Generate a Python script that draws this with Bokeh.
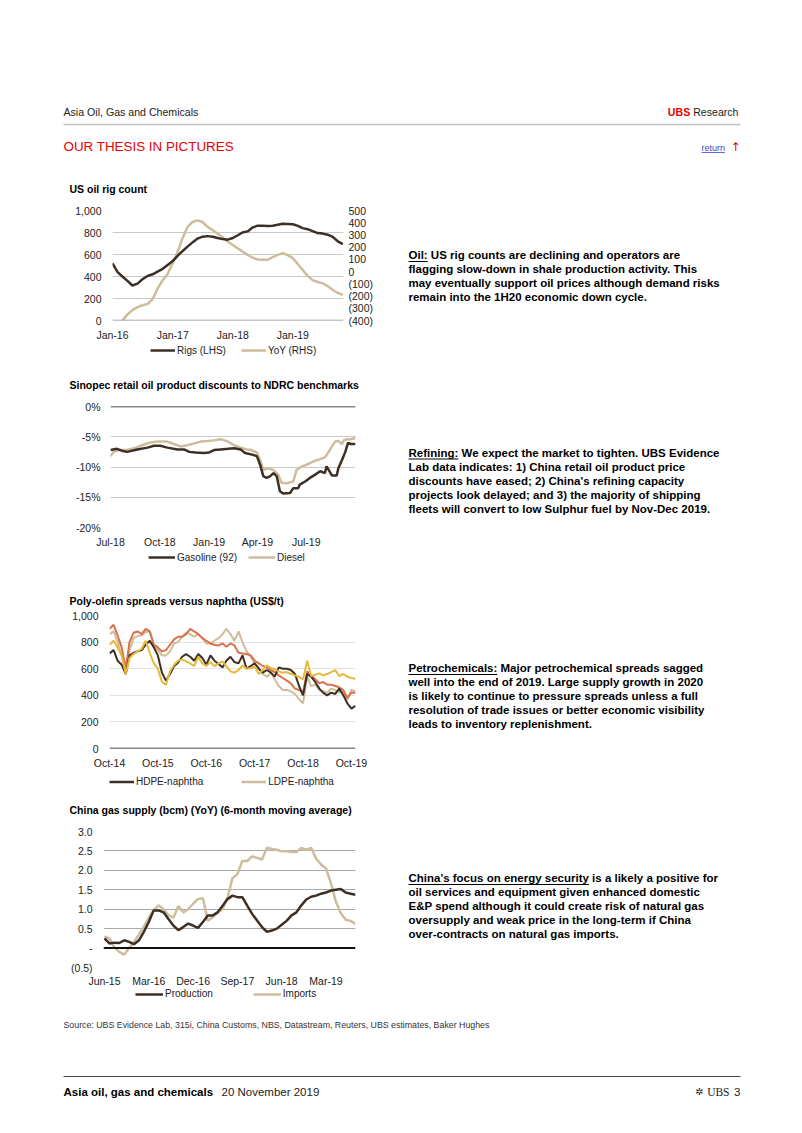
import pandas as pd
from bokeh.plotting import figure
from bokeh.models import (Range1d, LinearAxis, FixedTicker, DatetimeTickFormatter,
                          Legend, LegendItem, Span, NumeralTickFormatter, Title)
from bokeh.layouts import column, row
from bokeh.embed import file_html
from bokeh.resources import INLINE
from bokeh.core.properties import value

# ---------------- DATA ----------------
# Chart 1: US oil rig count (monthly)
rigs_start = "2016-01-01"
rigs = [520, 440, 400, 360, 318, 335, 375, 405, 420, 445, 470, 505,
        540, 590, 630, 672, 710, 745, 762, 767, 762, 750, 740, 735,
        750, 775, 800, 810, 845, 862, 862, 860, 862, 870, 880, 878,
        875, 860, 840, 830, 812, 795, 790, 780, 760, 720, 695]
yoy_start = "2016-03-01"
yoy = [-400, -350, -315, -290, -275, -265, -225, -140, -70, -20,
       70, 165, 270, 366, 406, 419, 406, 366, 340, 310, 280, 245,
       218, 190, 165, 137, 115, 100, 97, 97, 118, 137, 150, 135,
       110, 60, 15, -35, -70, -85, -95, -118, -150, -175, -190]
c1_xticks = ["2016-01-01", "2017-01-01", "2018-01-01", "2019-01-01"]
c1_lticks = [0, 200, 400, 600, 800, 1000]
c1_rticks = [-400, -300, -200, -100, 0, 100, 200, 300, 400, 500]
c1_rlabels = ["(400)", "(300)", "(200)", "(100)", "0", "100", "200", "300", "400", "500"]

# Chart 2: Sinopec retail discounts (%)
gas_dates = ["2018-07-01", "2018-07-13", "2018-07-22", "2018-08-01", "2018-08-20", "2018-09-08",
             "2018-09-20", "2018-10-02", "2018-10-15", "2018-11-03", "2018-11-15", "2018-11-25",
             "2018-12-07", "2018-12-22", "2019-01-01", "2019-01-10", "2019-01-23", "2019-02-05",
             "2019-02-17", "2019-03-01", "2019-03-09", "2019-03-24", "2019-03-31", "2019-04-06",
             "2019-04-12", "2019-04-18", "2019-04-25", "2019-05-01", "2019-05-07", "2019-05-13",
             "2019-05-19", "2019-06-01", "2019-06-07", "2019-06-16", "2019-06-19", "2019-06-29",
             "2019-07-08", "2019-07-17", "2019-07-27", "2019-08-05", "2019-08-08", "2019-08-18",
             "2019-08-27", "2019-08-30", "2019-09-06", "2019-09-12", "2019-09-17", "2019-09-22",
             "2019-10-01"]
gasoline = [-7.2, -7.0, -7.3, -7.5, -7.1, -6.8, -6.5, -6.5, -6.8, -7.1, -7.1, -7.5, -7.6, -7.7,
            -7.6, -7.2, -7.1, -7.0, -6.9, -7.1, -7.7, -8.0, -8.2, -9.6, -11.5, -11.8, -11.5, -11.0,
            -11.5, -14.0, -14.4, -14.3, -13.5, -13.5, -12.9, -12.4, -11.8, -11.3, -10.7, -11.0,
            -9.9, -11.4, -11.4, -10.2, -8.8, -7.5, -6.0, -6.2, -6.2]
dsl_dates = ["2018-07-01", "2018-07-07", "2018-07-16", "2018-08-01", "2018-08-17", "2018-08-29",
             "2018-09-11", "2018-09-27", "2018-10-15", "2018-10-27", "2018-11-09", "2018-11-21",
             "2018-12-04", "2018-12-16", "2018-12-29", "2019-01-10", "2019-01-23", "2019-02-05",
             "2019-02-17", "2019-03-01", "2019-03-12", "2019-03-21", "2019-03-31", "2019-04-06",
             "2019-04-12", "2019-04-21", "2019-05-01", "2019-05-10", "2019-05-16", "2019-05-26",
             "2019-06-07", "2019-06-13", "2019-06-23", "2019-07-05", "2019-07-14", "2019-07-27",
             "2019-08-05", "2019-08-12", "2019-08-18", "2019-08-24", "2019-08-30", "2019-09-06",
             "2019-09-09", "2019-09-15", "2019-09-22", "2019-09-28", "2019-10-01"]
diesel = [-8.2, -7.5, -7.2, -7.2, -6.8, -6.4, -6.0, -5.8, -5.8, -6.2, -6.6, -6.4, -6.1, -5.8,
          -5.7, -5.6, -5.4, -5.8, -6.4, -6.8, -7.1, -7.2, -7.6, -8.8, -10.5, -10.2, -10.5, -11.3,
          -12.6, -12.7, -12.4, -10.5, -9.9, -9.5, -9.1, -8.7, -8.4, -7.5, -6.6, -5.8, -5.7, -6.2,
          -5.6, -5.4, -5.4, -5.3, -5.0]
c2_xticks = ["2018-07-01", "2018-10-01", "2019-01-01", "2019-04-01", "2019-07-01"]
c2_yticks = [-20, -15, -10, -5, 0]
c2_ylabels = ["-20%", "-15%", "-10%", "-5%", "0%"]

# Chart 3: Poly-olefin spreads (US$/t), monthly from Oct-14
po_start = "2014-10-01"
hdpe = [715, 740, 660, 630, 560, 700, 720, 730, 740, 780, 810, 760, 700, 570, 510, 560,
        620, 645, 690, 710, 690, 660, 710, 680, 630, 700, 660, 635, 610, 660, 690, 650,
        640, 700, 600, 620, 640, 600, 570, 590, 570, 540, 610, 600, 600, 590, 560, 470,
        400, 560, 540, 500, 450, 420, 400, 420, 410, 450, 400, 340, 300, 320]
ldpe = [860, 880, 800, 700, 570, 740, 830, 845, 850, 875, 880, 770, 740, 700, 700, 730,
        790, 800, 840, 870, 860, 840, 860, 830, 790, 790, 810, 830, 860, 900, 860, 810,
        880, 800, 730, 690, 640, 600, 560, 540, 570, 520, 470, 440, 440, 430, 410, 370,
        340, 540, 470, 480, 440, 430, 420, 450, 440, 420, 430, 370, 440, 430]
lldpe = [900, 930, 850, 760, 600, 800, 870, 880, 860, 900, 880, 780, 760, 730, 740, 780,
         820, 840, 840, 860, 900, 880, 860, 830, 810, 790, 780, 775, 790, 765, 790, 775,
         720, 715, 710, 700, 660, 640, 620, 610, 590, 575, 550, 530, 510, 490, 450, 440,
         420, 580, 550, 520, 490, 500, 480, 480, 470, 460, 440, 380, 420, 420]
pp = [780, 810, 760, 700, 560, 680, 710, 730, 750, 810, 720, 640, 600, 500, 480, 580,
      630, 660, 670, 655, 640, 620, 690, 640, 620, 650, 620, 640, 655, 620, 580, 570,
      590, 625, 600, 605, 615, 560, 590, 625, 605, 595, 580, 570, 575, 560, 550, 540,
      520, 660, 545, 555, 565, 550, 560, 575, 590, 545, 560, 540, 530, 525]
c3_xticks = ["2014-10-01", "2015-10-01", "2016-10-01", "2017-10-01", "2018-10-01", "2019-10-01"]
c3_yticks = [0, 200, 400, 600, 800, 1000]

# Chart 4: China gas supply YoY (bcm), monthly Jun-15 .. Sep-19
production = [0.25, 0.12, 0.14, 0.13, 0.20, 0.16, 0.10, 0.20, 0.42, 0.67, 0.97, 0.97, 0.92,
              0.75, 0.58, 0.46, 0.54, 0.63, 0.58, 0.52, 0.67, 0.84, 0.84, 0.92, 1.09, 1.26,
              1.35, 1.31, 1.31, 1.09, 0.88, 0.71, 0.54, 0.42, 0.45, 0.50, 0.60, 0.70, 0.84,
              0.92, 1.10, 1.25, 1.32, 1.35, 1.40, 1.43, 1.48, 1.50, 1.52, 1.43, 1.40, 1.37]
imports = [0.30, 0.25, 0.02, -0.10, -0.17, 0.00, 0.16, 0.35, 0.55, 0.78, 0.98, 1.10, 1.00,
           0.85, 0.78, 1.08, 0.92, 1.00, 1.14, 1.26, 1.28, 0.70, 0.80, 0.92, 1.00, 1.30,
           1.80, 1.90, 2.24, 2.24, 2.36, 2.32, 2.28, 2.58, 2.55, 2.53, 2.49, 2.49, 2.47,
           2.47, 2.58, 2.53, 2.58, 2.30, 2.15, 2.05, 1.67, 1.20, 0.90, 0.73, 0.70, 0.62]
c4_xtick_idx = [0, 9, 18, 27, 36, 45]
c4_xlabels = ["Jun-15", "Mar-16", "Dec-16", "Sep-17", "Jun-18", "Mar-19"]
c4_yticks = [-0.5, 0, 0.5, 1.0, 1.5, 2.0, 2.5, 3.0]
c4_ylabels = ["(0.5)", "-", "0.5", "1.0", "1.5", "2.0", "2.5", "3.0"]

# ---------------- STYLE ----------------
FONT = "Liberation Sans"
DARK = "#3e2f25"
TAN = "#cdbd9c"
ORANGE = "#d8714c"
YELLOW = "#e7b93a"
RED = "#e60000"
GRID = "#c9c9c9"
W = 800
TITLE_H = 11.7  # text box height of a 10.5px title

AR = {' ': 278, ',': 278, '-': 333, '.': 278, ':': 278, "'": 191, 'A': 667, 'B': 667, 'C': 722,
      'R': 722, 'S': 667, 'U': 722, 'a': 556, 'b': 556, 'c': 500, 'd': 556, 'e': 556, 'f': 278,
      'g': 556, 'h': 556, 'i': 222, 'l': 222, 'm': 833, 'n': 556, 'o': 556, 'r': 333, 's': 500,
      't': 278, 'u': 556}
AB = {' ': 278, ',': 278, '-': 333, ':': 333, "'": 238, 'C': 722, 'O': 778, 'P': 667, 'R': 722,
      'a': 556, 'c': 556, 'e': 556, 'f': 333, 'g': 611, 'h': 611, 'i': 278, 'l': 278, 'm': 889,
      'n': 611, 'o': 611, 'r': 389, 's': 556, 't': 333, 'u': 611, 'y': 556}


def tw(s, size, bold=False):
    tab = AB if bold else AR
    return sum(tab.get(ch, 556) for ch in s) * size / 1000.0


def panel(x0, y0, x1, y1):
    # data coords == page pixels
    p = figure(width=x1 - x0, height=y1 - y0, x_range=Range1d(x0, x1), y_range=Range1d(y1, y0),
               x_axis_type=None, y_axis_type=None, output_backend="svg", toolbar_location=None,
               min_border=0)
    p.outline_line_color = None
    p.background_fill_color = "white"
    p.border_fill_color = "white"
    return p


def txt(p, x, y, s, size, bold=False, color="#000000", align="left", font=FONT):
    p.text(x=[x], y=[y], text=[s], text_font=value(font), text_font_size=f"{size}px",
           text_font_style="bold" if bold else "normal", text_color=color,
           text_align=align, text_baseline="middle")


def uline(p, x0, x1, y, color="#000000", w=1):
    p.segment(x0=[x0], y0=[y], x1=[x1], y1=[y], line_color=color, line_width=w)


def style_axis(ax, standoff):
    ax.axis_line_color = None
    ax.major_tick_line_color = None
    ax.minor_tick_line_color = None
    ax.major_tick_out = 0
    ax.major_tick_in = 0
    ax.minor_tick_out = 0
    ax.minor_tick_in = 0
    ax.major_label_text_font = FONT
    ax.major_label_text_font_size = "10.5px"
    ax.major_label_text_color = "#222222"
    ax.major_label_standoff = standoff


def chart(y0, y1, fl, ft, fr, fb, xr, yr, title, xtype="linear", xstand=8, ystand=10):
    top = ft - y0  # title centred in this band
    p = figure(width=400, height=y1 - y0, x_range=xr, y_range=yr, x_axis_type=xtype,
               output_backend="svg", toolbar_location=None,
               min_border_left=fl, min_border_right=400 - fr,
               min_border_top=top, min_border_bottom=y1 - fb)
    p.add_layout(Title(text=title, align="left", offset=69 - fl, vertical_align="middle",
                       standoff=max(0, top - 2 - TITLE_H),
                       text_font=FONT, text_font_size="10.5px", text_font_style="bold",
                       text_color="#000000"), "above")
    p.outline_line_color = None
    p.background_fill_color = "white"
    p.border_fill_color = "white"
    p.xgrid.visible = False
    p.ygrid.grid_line_color = GRID
    p.ygrid.grid_line_width = 1
    for ax in p.xaxis:
        style_axis(ax, xstand)
    for ax in p.yaxis:
        style_axis(ax, ystand)
    return p


def legend_panel(y0, y1, fl, fr, entries, spacing, loc, glyph_w=25, lh=12):
    lp = figure(width=400, height=y1 - y0, x_range=Range1d(0, 1), y_range=Range1d(0, 1),
                x_axis_type=None, y_axis_type=None, output_backend="svg", toolbar_location=None,
                min_border_left=fl, min_border_right=400 - fr, min_border_top=0,
                min_border_bottom=0)
    lp.outline_line_color = None
    lp.background_fill_color = "white"
    lp.border_fill_color = "white"
    items = []
    for label, color, width in entries:
        # legend-only renderer (its points sit outside the visible range)
        r = lp.line(x=[-3, -2], y=[-3, -2], line_color=color, line_width=width)
        items.append(LegendItem(label=label, renderers=[r]))
    lg = Legend(items=items, orientation="horizontal", location=loc, border_line_color=None,
                background_fill_alpha=0, label_text_font=FONT, label_text_font_size="10px",
                label_text_color="#222222", glyph_width=glyph_w, glyph_height=lh,
                label_height=lh, label_standoff=2, spacing=spacing, padding=0, margin=0)
    lp.add_layout(lg)
    return lp


def ms(d):
    return pd.Timestamp(d).value // 10**6


dtf = DatetimeTickFormatter(days="%b-%y", months="%b-%y", years="%b-%y")

# ---------------- HEADER ----------------
hdr = panel(0, 0, W, 166)
txt(hdr, 63, 111, "Asia Oil, Gas and Chemicals", 10.6, color="#222222")
txt(hdr, 738, 111, "Research", 10.6, color="#222222", align="right")
txt(hdr, 738 - tw("Research", 10.6) - tw(" ", 10.6), 111, "UBS", 10.6, bold=True, color=RED,
    align="right")
uline(hdr, 63, 740, 124, color="#c4c4c4", w=1.5)
txt(hdr, 63, 146, "OUR THESIS IN PICTURES", 13.4, color=RED)
txt(hdr, 701, 147, "return", 9, color="#3a46c6")
uline(hdr, 701, 701 + tw("return", 9), 152, color="#3a46c6", w=0.8)
txt(hdr, 730, 146, "\u2191", 12, color=RED, font="DejaVu Sans")

# ---------------- CHART 1 ----------------
c1 = chart(166, 343, 112, 210, 343, 321,
           Range1d(pd.Timestamp("2016-01-01"), pd.Timestamp("2019-11-05")), Range1d(0, 1000),
           "US oil rig count", xtype="datetime", ystand=11)
c1.xaxis.ticker = FixedTicker(ticks=[ms(d) for d in c1_xticks])
c1.xaxis.formatter = dtf
c1.yaxis.ticker = FixedTicker(ticks=c1_lticks)
c1.yaxis.formatter = NumeralTickFormatter(format="0,0")
c1.extra_y_ranges = {"yoy": Range1d(-400, 500)}
rax = LinearAxis(y_range_name="yoy", ticker=FixedTicker(ticks=c1_rticks),
                 major_label_overrides=dict(zip(c1_rticks, c1_rlabels)))
style_axis(rax, 5)
c1.add_layout(rax, "right")
c1.add_layout(Span(location=0, dimension="width", line_color="#8c8c8c", line_width=1.5))
rig_dates = pd.date_range(rigs_start, periods=len(rigs), freq="MS")
yoy_dates = pd.date_range(yoy_start, periods=len(yoy), freq="MS")
c1.line(yoy_dates, yoy, line_color=TAN, line_width=2.5, y_range_name="yoy")
c1.line(rig_dates, rigs, line_color=DARK, line_width=2.5)
l1 = legend_panel(343, 362, 112, 343, [("Rigs (LHS)", DARK, 2.5), ("YoY (RHS)", TAN, 2.5)],
                  15, (38, 6))

txt1 = panel(400, 166, W, 362)
lines1 = ["Oil: US rig counts are declining and operators are",
          "flagging slow-down in shale production activity. This",
          "may eventually support oil prices although demand risks",
          "remain into the 1H20 economic down cycle."]
for i, s in enumerate(lines1):
    txt(txt1, 408, 254.5 + 14 * i, s, 11.5, bold=True)
uline(txt1, 408, 408 + tw("Oil:", 11.5, True), 261)

# ---------------- CHART 2 ----------------
c2 = chart(362, 550, 110, 406, 355, 528,
           Range1d(pd.Timestamp("2018-07-01"), pd.Timestamp("2019-10-01")), Range1d(-20, 0),
           "Sinopec retail oil product discounts to NDRC benchmarks", xtype="datetime")
c2.xaxis.ticker = FixedTicker(ticks=[ms(d) for d in c2_xticks])
c2.xaxis.formatter = dtf
c2.yaxis.ticker = FixedTicker(ticks=c2_yticks)
c2.yaxis.major_label_overrides = dict(zip(c2_yticks, c2_ylabels))
c2.add_layout(Span(location=0, dimension="width", line_color="#111111", line_width=1.5))
c2.line(pd.to_datetime(dsl_dates), diesel, line_color=TAN, line_width=2.5)
c2.line(pd.to_datetime(gas_dates), gasoline, line_color=DARK, line_width=2.5)
l2 = legend_panel(550, 585, 110, 355, [("Gasoline (92)", DARK, 2.5), ("Diesel", TAN, 2.5)],
                  11, (38, 22), glyph_w=27)

txt2 = panel(400, 362, W, 585)
lines2 = ["Refining: We expect the market to tighten. UBS Evidence",
          "Lab data indicates: 1) China retail oil product price",
          "discounts have eased; 2) China's refining capacity",
          "projects look delayed; and 3) the majority of shipping",
          "fleets will convert to low Sulphur fuel by Nov-Dec 2019."]
for i, s in enumerate(lines2):
    txt(txt2, 408, 452 + 14 * i, s, 11.5, bold=True)
uline(txt2, 408, 408 + tw("Refining:", 11.5, True), 458.5)

# ---------------- CHART 3 ----------------
c3 = chart(585, 771, 109, 615, 355, 749,
           Range1d(pd.Timestamp("2014-10-01"), pd.Timestamp("2019-11-01")), Range1d(0, 1000),
           "Poly-olefin spreads versus naphtha (US$/t)", xtype="datetime", ystand=11)
c3.xaxis.ticker = FixedTicker(ticks=[ms(d) for d in c3_xticks])
c3.xaxis.formatter = dtf
c3.yaxis.ticker = FixedTicker(ticks=c3_yticks)
c3.yaxis.formatter = NumeralTickFormatter(format="0,0")
c3.ygrid.grid_line_color = "#e2e2e2"
c3.add_layout(Span(location=0, dimension="width", line_color="#111111", line_width=1.5))
po_dates = pd.date_range(po_start, periods=len(hdpe), freq="MS")
c3.line(po_dates, ldpe, line_color=TAN, line_width=2)
c3.line(po_dates, lldpe, line_color=ORANGE, line_width=2)
c3.line(po_dates, hdpe, line_color=DARK, line_width=2)
c3.line(po_dates, pp, line_color=YELLOW, line_width=2)
l3 = legend_panel(771, 787, 109, 355, [("HDPE-naphtha", DARK, 2.5), ("LDPE-naphtha", TAN, 2.5)],
                  38, (0, 0), lh=11)

txt3 = panel(400, 585, W, 787)
lines3 = ["Petrochemicals: Major petrochemical spreads sagged",
          "well into the end of 2019. Large supply growth in 2020",
          "is likely to continue to pressure spreads unless a full",
          "resolution of trade issues or better economic visibility",
          "leads to inventory replenishment."]
for i, s in enumerate(lines3):
    txt(txt3, 408, 667.5 + 14 * i, s, 11.5, bold=True)
uline(txt3, 408, 408 + tw("Petrochemicals:", 11.5, True), 674)

# ---------------- CHART 4 ----------------
c4 = chart(787, 989, 103, 831, 355, 969, Range1d(-0.2, 51), Range1d(-0.5, 3.0),
           "China gas supply (bcm) (YoY) (6-month moving average)", xstand=7, ystand=11)
c4.xaxis.ticker = FixedTicker(ticks=c4_xtick_idx)
c4.xaxis.major_label_overrides = dict(zip(c4_xtick_idx, c4_xlabels))
c4.yaxis.ticker = FixedTicker(ticks=c4_yticks)
c4.yaxis.major_label_overrides = dict(zip(c4_yticks, c4_ylabels))
c4.ygrid.ticker = FixedTicker(ticks=[t for t in c4_yticks if t > 0])
c4.ygrid.grid_line_color = "#a9a9a9"
c4.add_layout(Span(location=0, dimension="width", line_color="#111111", line_width=2))
m_idx = list(range(len(production)))
c4.line(m_idx, imports, line_color=TAN, line_width=2.5)
c4.line(m_idx, production, line_color=DARK, line_width=2.5)
l4 = legend_panel(989, 1005, 103, 355, [("Production", DARK, 2.5), ("Imports", TAN, 2.5)],
                  40, (32, 6), glyph_w=28, lh=10)

txt4 = panel(400, 787, W, 1005)
lines4 = ["China's focus on energy security is a likely a positive for",
          "oil services and equipment given enhanced domestic",
          "E&P spend although it could create risk of natural gas",
          "oversupply and weak price in the long-term if China",
          "over-contracts on natural gas imports."]
for i, s in enumerate(lines4):
    txt(txt4, 408, 877.5 + 14 * i, s, 11.5, bold=True)
uline(txt4, 408, 408 + tw("China's focus on energy security", 11.5, True), 884)

# ---------------- FOOTER ----------------
ftr = panel(0, 1005, W, 1130)
txt(ftr, 63, 1024, "Source:  UBS Evidence Lab, 315i, China Customs, NBS, Datastream, Reuters, "
                   "UBS estimates, Baker Hughes", 8.8, color="#333333")
uline(ftr, 63, 740, 1076, color="#444444", w=1)
txt(ftr, 63, 1091, "Asia oil, gas and chemicals", 11.5, bold=True)
txt(ftr, 221, 1091, "20 November 2019", 11.5, color="#222222")
txt(ftr, 740, 1091, "3", 11.5, color="#222222", align="right")
txt(ftr, 729, 1091, "UBS", 11.5, color="#222222", align="right", font="Liberation Serif")
txt(ftr, 703, 1091, "\u2732", 10, color="#222222", align="right", font="DejaVu Sans")

layout = column(
    hdr,
    row(column(c1, l1), txt1),
    row(column(c2, l2), txt2),
    row(column(c3, l3), txt3),
    row(column(c4, l4), txt4),
    ftr,
)

open("out.html", "w").write(file_html(layout, INLINE, title="Asia Oil, Gas and Chemicals"))
